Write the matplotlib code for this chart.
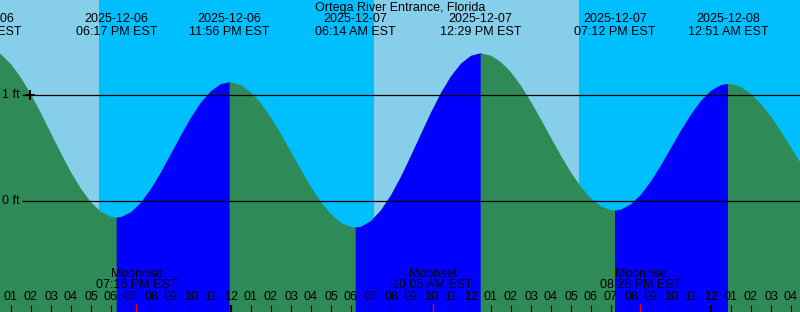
import matplotlib
matplotlib.use("Agg")
import matplotlib.pyplot as plt
from matplotlib.transforms import blended_transform_factory

plt.rcParams['font.family'] = ['Liberation Sans', 'DejaVu Sans']

TITLE = "Ortega River Entrance, Florida"

# hours after midnight 2025-12-07 EST  ->  tide level, ft
hours = [-12.45, -12.0, -11.5, -11.0, -10.5, -10.0, -9.5, -9.0, -8.5, -8.0,
         -7.5, -7.0, -6.5, -6.0, -5.717,
         -5.5, -5.0, -4.5, -4.0, -3.5, -3.0, -2.5, -2.0, -1.5, -1.0, -0.5, -0.067,
         0.0, 0.5, 1.0, 1.5, 2.0, 2.5, 3.0, 3.5, 4.0, 4.5, 5.0, 5.5, 6.0, 6.233,
         6.5, 7.0, 7.5, 8.0, 8.5, 9.0, 9.5, 10.0, 10.5, 11.0, 11.5, 12.0, 12.483,
         12.5, 13.0, 13.5, 14.0, 14.5, 15.0, 15.5, 16.0, 16.5, 17.0, 17.5, 18.0,
         18.5, 19.0, 19.2,
         19.5, 20.0, 20.5, 21.0, 21.5, 22.0, 22.5, 23.0, 23.5, 24.0, 24.5, 24.85,
         25.0, 25.5, 26.0, 26.5, 27.0, 27.5, 28.0, 28.5]
level_ft = [1.44, 1.432, 1.383, 1.291, 1.163, 1.006, 0.827, 0.638, 0.450, 0.271,
            0.115, -0.012, -0.102, -0.150, -0.157,
            -0.152, -0.107, -0.016, 0.113, 0.270, 0.443, 0.620, 0.785, 0.928, 1.036, 1.102, 1.120,
            1.1197, 1.093, 1.025, 0.921, 0.787, 0.631, 0.463, 0.294, 0.133, -0.010, -0.125, -0.205, -0.245, -0.250,
            -0.243, -0.190, -0.089, 0.053, 0.228, 0.425, 0.630, 0.832, 1.018, 1.175, 1.295, 1.369, 1.393,
            1.3929, 1.371, 1.311, 1.214, 1.087, 0.936, 0.769, 0.597, 0.427, 0.269, 0.132, 0.024,
            -0.051, -0.087, -0.090,
            -0.082, -0.032, 0.059, 0.185, 0.335, 0.499, 0.663, 0.815, 0.944, 1.039, 1.093, 1.104,
            1.102, 1.074, 1.010, 0.916, 0.796, 0.656, 0.506, 0.352]

# high / low tide events
event_hours = [-12.45, -5.717, -0.067, 6.233, 12.483, 19.2, 24.85]
event_dates = ["2025-12-06", "2025-12-06", "2025-12-06", "2025-12-07",
               "2025-12-07", "2025-12-07", "2025-12-08"]
event_times = ["11:33 AM EST", "06:17 PM EST", "11:56 PM EST", "06:14 AM EST",
               "12:29 PM EST", "07:12 PM EST", "12:51 AM EST"]

sun_hours = [-6.6, 7.15, 17.4]          # sunset, sunrise, sunset
moon_hours = [-4.733, 10.083, 20.467]
moon_names = ["Moonrise", "Moonset", "Moonrise"]
moon_times = ["07:16 PM EST", "10:05 AM EST", "08:28 PM EST"]

hour_ticks = list(range(-11, 29))
hour_labels = [f"{(h - 1) % 12 + 1:02d}" for h in hour_ticks]
datum_ft = [1, 0]
datum_labels = ["1 ft", "0 ft"]
now_hour, now_level = -10.03, 1.0

DAY, NIGHT = "#87CEEB", "#00BFFF"
FALL, RISE = "#2E8B57", "#0000FF"
W, H = 800, 312
X0, X1 = -11.55, 28.45
Y0, Y1 = -1.0472, 1.8962


def py(ypx):
    return 1 - ypx / H


fig = plt.figure(figsize=(W / 100, H / 100), dpi=100)
ax = fig.add_axes([0, 0, 1, 1])
ax.set_xlim(X0, X1); ax.set_ylim(Y0, Y1)
ax.axis("off")
tr = blended_transform_factory(ax.transData, ax.transAxes)

# sky
edges = [X0 - 1] + sun_hours + [X1 + 1]
for i in range(len(edges) - 1):
    ax.axvspan(edges[i], edges[i + 1], color=DAY if i % 2 == 0 else NIGHT, lw=0, zorder=0)

# water: green when falling, blue when rising
ax.fill_between(hours, level_ft, Y0 - 1, color=FALL, lw=0, zorder=1)
idx = [hours.index(e) for e in event_hours]
for a, b in zip(idx[:-1], idx[1:]):
    if level_ft[b] > level_ft[a]:
        ax.fill_between(hours[a:b + 1], level_ft[a:b + 1], Y0 - 1, color=RISE, lw=0, zorder=2)

# datum lines
ax.hlines(datum_ft, X0 + 22 / 20, X1 + 1, color="black", lw=0.9, zorder=3)
for v, lab in zip(datum_ft, datum_labels):
    ax.text(X0 + 2 / 20, v, lab, ha="left", va="center", fontsize=9, zorder=4)
ax.plot([now_hour], [now_level], marker="+", ms=7, mew=1.4, color="black", zorder=4)

# tide event labels
fig.text(0.5, py(7.5), TITLE, ha="center", va="center", fontsize=9)
for t, d, s in zip(event_hours, event_dates, event_times):
    ax.text(t, py(19.5), d, transform=tr, ha="center", va="center", fontsize=9, zorder=4)
    ax.text(t, py(31.7), s, transform=tr, ha="center", va="center", fontsize=9, zorder=4)

# moon events
for t, n, s in zip(moon_hours, moon_names, moon_times):
    ax.text(t, py(273.7), n, transform=tr, ha="center", va="center", fontsize=9, zorder=4)
    ax.text(t, py(285), s, transform=tr, ha="center", va="center", fontsize=9, zorder=4)
ax.vlines(moon_hours, 0, py(304), transform=tr, color="red", lw=1, zorder=4)

# hour ticks
for t, lab in zip(hour_ticks, hour_labels):
    ax.vlines(t, 0, py(305), transform=tr, color="black",
              lw=1.6 if t % 24 == 0 else 0.8, zorder=4)
    ax.text(t, py(297.2), lab, transform=tr, ha="center", va="center", fontsize=9, zorder=4)

fig.savefig("out.png", dpi=100)
